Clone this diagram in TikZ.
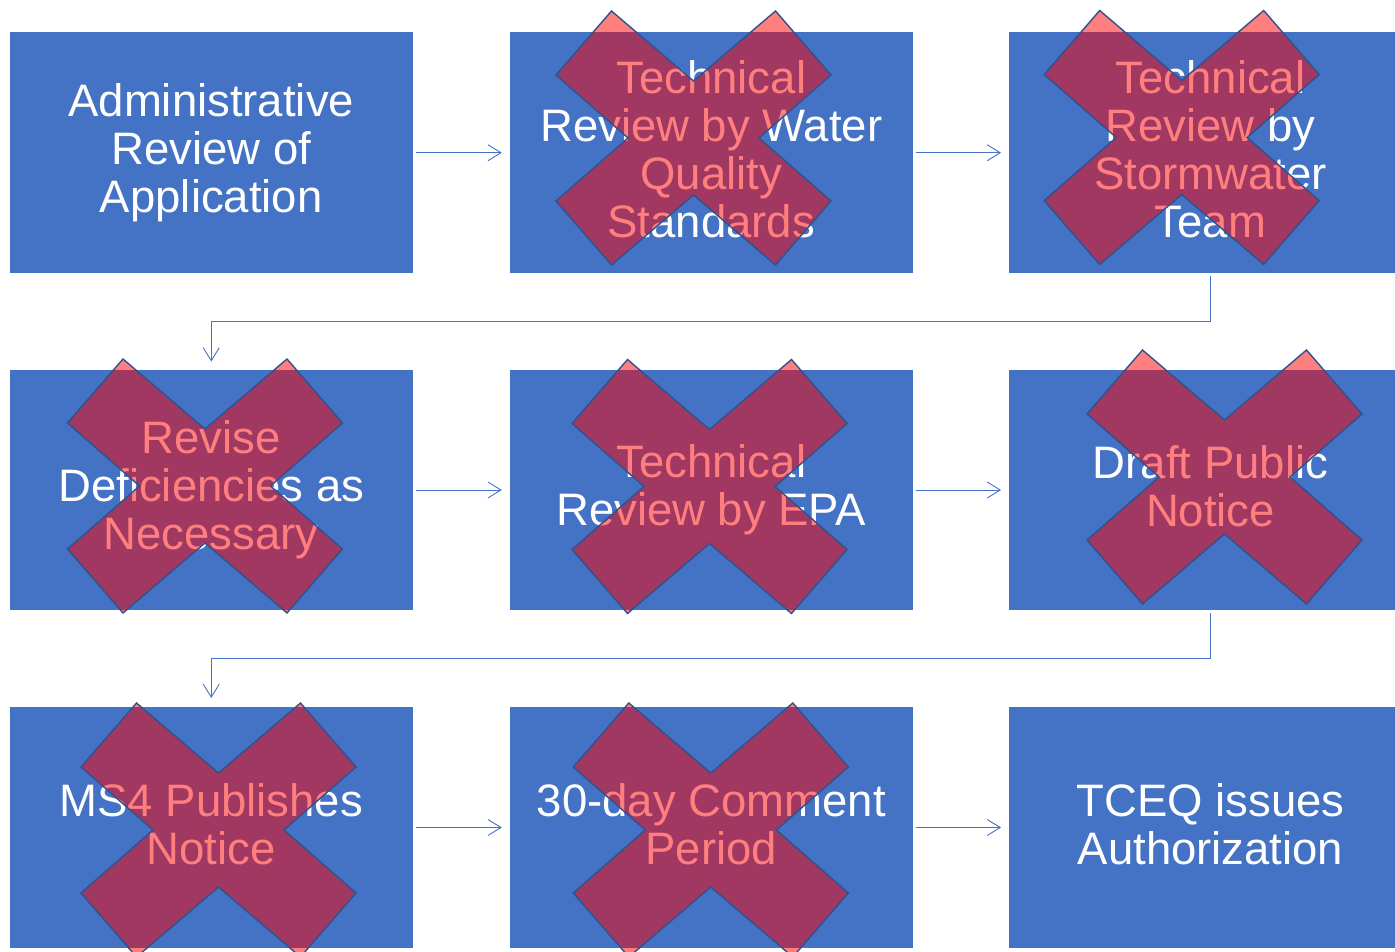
\documentclass[tikz,border=0pt]{standalone}
\usepackage{fontspec}
\setmainfont{Liberation Sans}
\usetikzlibrary{arrows.meta}

\definecolor{boxblue}{HTML}{4472C4}
\definecolor{crossline}{HTML}{2F528F}
\definecolor{crossred}{HTML}{FF0000}
\definecolor{connblue}{HTML}{4472C4}

% invisible strut so every text block is centred on the same line metrics
\newcommand\tstrut{\rule[-7.5pt]{0pt}{46pt}}

\tikzset{
  stepbox/.style={draw=none, fill=boxblue, text=white, inner sep=0pt,
    minimum width=403.5pt, minimum height=240.5pt,
    align=center, font=\fontsize{45.5}{48}\selectfont,
    execute at begin node=\tstrut, execute at end node=\tstrut},
  conn/.style={draw=connblue, line width=0.9pt,
    -{Straight Barb[length=13pt,width=16pt,line width=0.9pt]}},
  crossfill/.style={fill=crossred, fill opacity=0.5, draw=crossline,
    line width=1.4pt, line join=miter},
  pics/strike/.style={code={
    \path[crossfill] (-82,-127) -- (0,-57) -- (82,-127) -- (137.5,-63)
      -- (65.5,0) -- (137.5,63) -- (82,127) -- (0,57) -- (-82,127)
      -- (-137.5,63) -- (-65.5,0) -- (-137.5,-63) -- cycle;
  }}
}

\begin{document}
\begin{tikzpicture}[x=1pt,y=-1pt]
  \useasboundingbox (0,0) rectangle (1395,952);
  \clip (0,0) rectangle (1395,952);

  % process steps, three rows of three
  \node[stepbox] (b1) at (211.25,152.75) {Administrative\\Review of\\Application};
  \node[stepbox] (b2) at (711.25,152.75) {Technical\\Review by Water\\Quality\\Standards};
  \node[stepbox] (b3) at (1210.5,152.75) {Technical\\Review by\\Stormwater\\Team};

  \node[stepbox] (b4) at (211.25,490) {Revise\\Deficiencies as\\Necessary};
  \node[stepbox] (b5) at (711.25,490) {Technical\\Review by EPA};
  \node[stepbox] (b6) at (1210.5,490) {Draft Public\\Notice};

  \node[stepbox] (b7) at (211.25,827.5) {MS4 Publishes\\Notice};
  \node[stepbox] (b8) at (711.25,827.5) {30-day Comment\\Period};
  \node[stepbox] (b9) at (1210.5,827.5) {TCEQ issues\\Authorization};

  % crossed-out steps
  \pic at (693.5,138) {strike};
  \pic at (1181.7,137.5) {strike};
  \pic at (205,486) {strike};
  \pic at (709.5,486.5) {strike};
  \pic at (1224.5,477) {strike};
  \pic at (218.5,830) {strike};
  \pic at (710.8,830) {strike};

  % flow within each row
  \draw[conn] ([xshift=3pt]b1.east) -- ([xshift=-7.5pt]b2.west);
  \draw[conn] ([xshift=3pt]b2.east) -- ([xshift=-7.5pt]b3.west);
  \draw[conn] ([xshift=3pt]b4.east) -- ([xshift=-7.5pt]b5.west);
  \draw[conn] ([xshift=3pt]b5.east) -- ([xshift=-7.5pt]b6.west);
  \draw[conn] ([xshift=3pt]b7.east) -- ([xshift=-7.5pt]b8.west);
  \draw[conn] ([xshift=3pt]b8.east) -- ([xshift=-7.5pt]b9.west);

  % wrap-around from the end of one row to the start of the next
  \draw[conn] ([yshift=-3pt]b3.south) -- ([yshift=-48pt]b3.south)
    -| ([yshift=8pt]b4.north);
  \draw[conn] ([yshift=-3pt]b6.south) -- ([yshift=-48pt]b6.south)
    -| ([yshift=9pt]b7.north);
\end{tikzpicture}
\end{document}
